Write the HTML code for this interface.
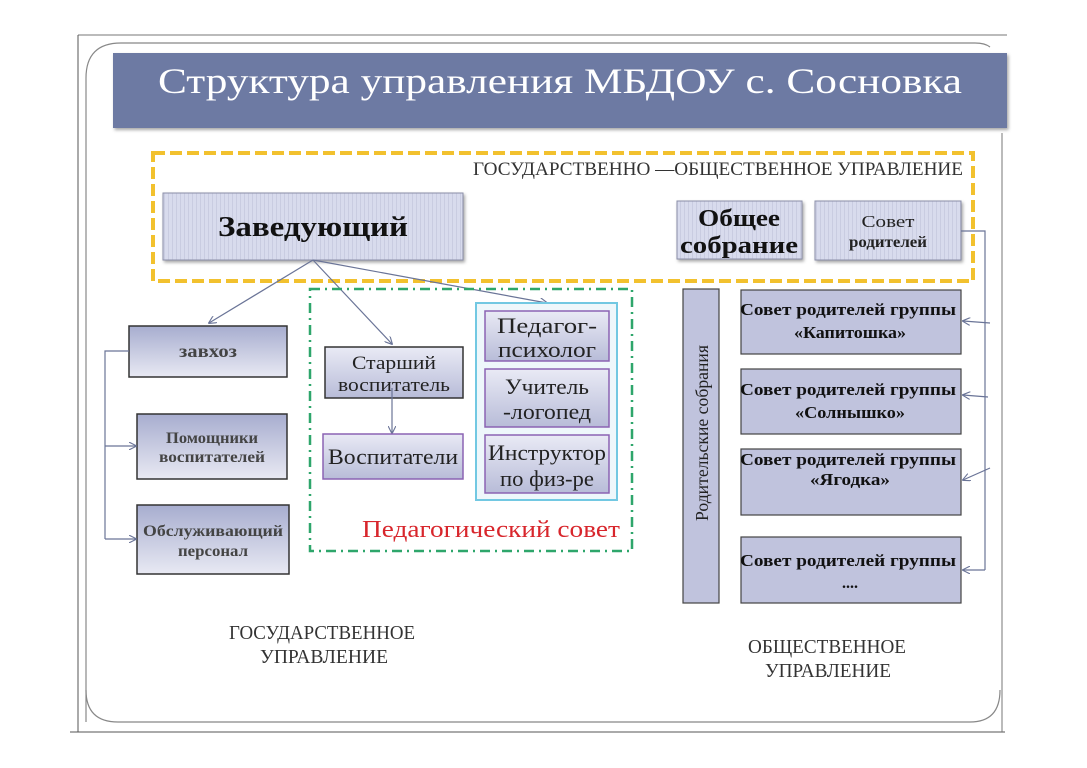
<!DOCTYPE html>
<html><head><meta charset="utf-8"><style>
html,body{margin:0;padding:0;background:#fff;}
svg{display:block;}
text{font-family:"Liberation Serif","DejaVu Serif",serif;}
</style></head><body>
<svg width="1087" height="768" viewBox="0 0 1087 768" xmlns="http://www.w3.org/2000/svg">
<defs>
  <pattern id="stripe" width="4" height="10" patternUnits="userSpaceOnUse">
    <rect width="4" height="10" fill="#d8dbed"/>
    <rect width="1" height="10" fill="#c9cce1"/>
  </pattern>
  <linearGradient id="gb" x1="0" y1="0" x2="0" y2="1">
    <stop offset="0" stop-color="#a7adcf"/>
    <stop offset="1" stop-color="#e8e9f3"/>
  </linearGradient>
  <linearGradient id="gp" x1="0" y1="0" x2="0" y2="1">
    <stop offset="0" stop-color="#e9eaf5"/>
    <stop offset="1" stop-color="#b8bcd8"/>
  </linearGradient>
  <filter id="sh" x="-10%" y="-10%" width="130%" height="140%">
    <feDropShadow dx="1.5" dy="2" stdDeviation="1.5" flood-color="#000" flood-opacity="0.35"/>
  </filter>
  <marker id="ar" viewBox="0 0 10 10" refX="9" refY="5" markerWidth="8" markerHeight="8" orient="auto" markerUnits="userSpaceOnUse">
    <path d="M0,0 L10,5 L0,10" fill="none" stroke="#6a7497" stroke-width="1.4"/>
  </marker>
</defs>

<!-- outer frame -->
<line x1="78" y1="35" x2="1007" y2="35" stroke="#777" stroke-width="1"/>
<line x1="78" y1="35" x2="78" y2="732" stroke="#555" stroke-width="1"/>
<line x1="70" y1="732" x2="1005" y2="732" stroke="#555" stroke-width="1"/>
<line x1="1002" y1="133" x2="1002" y2="732" stroke="#777" stroke-width="1"/>
<!-- inner rounded -->
<path d="M86,722 L86,78 Q86,43 121,43 L975,43 Q985,43 990,47" fill="none" stroke="#888" stroke-width="1.2"/>
<path d="M86,690 Q86,722 118,722 L970,722 Q1000,722 1000,690" fill="none" stroke="#888" stroke-width="1.2"/>

<!-- title bar -->
<rect x="113" y="53" width="894" height="75" fill="#6d7aa3" filter="url(#sh)"/>
<text x="158" y="93" font-size="36" fill="#fff" textLength="804" lengthAdjust="spacingAndGlyphs">Структура управления МБДОУ с. Сосновка</text>

<!-- yellow dashed -->
<rect x="153" y="153" width="820" height="128" fill="none" stroke="#f2c12e" stroke-width="4" stroke-dasharray="12,5"/>
<text x="473" y="175" font-size="19" fill="#333" textLength="490" lengthAdjust="spacingAndGlyphs">ГОСУДАРСТВЕННО —ОБЩЕСТВЕННОЕ УПРАВЛЕНИЕ</text>

<!-- Заведующий -->
<rect x="163" y="193" width="300" height="67" fill="url(#stripe)" stroke="#8a8ea8" stroke-width="1" filter="url(#sh)"/>
<text x="313" y="236" font-size="29" font-weight="bold" fill="#111" text-anchor="middle" textLength="190" lengthAdjust="spacingAndGlyphs">Заведующий</text>

<!-- Общее собрание -->
<rect x="677" y="201" width="125" height="58" fill="url(#stripe)" stroke="#8a8ea8" stroke-width="1" filter="url(#sh)"/>
<text x="739" y="226" font-size="24" font-weight="bold" fill="#111" text-anchor="middle" textLength="82" lengthAdjust="spacingAndGlyphs">Общее</text>
<text x="739" y="253" font-size="24" font-weight="bold" fill="#111" text-anchor="middle" textLength="118" lengthAdjust="spacingAndGlyphs">собрание</text>

<!-- Совет родителей -->
<rect x="815" y="201" width="146" height="59" fill="url(#stripe)" stroke="#8a8ea8" stroke-width="1" filter="url(#sh)"/>
<text x="888" y="227" font-size="17" fill="#222" text-anchor="middle" textLength="53" lengthAdjust="spacingAndGlyphs">Совет</text>
<text x="888" y="247" font-size="16" font-weight="bold" fill="#222" text-anchor="middle" textLength="78" lengthAdjust="spacingAndGlyphs">родителей</text>

<!-- connectors from Заведующий -->
<line x1="313" y1="260" x2="209" y2="323" stroke="#6a7497" stroke-width="1.2" marker-end="url(#ar)"/>
<line x1="313" y1="260" x2="392" y2="344" stroke="#6a7497" stroke-width="1.2" marker-end="url(#ar)"/>
<line x1="313" y1="260" x2="547" y2="303" stroke="#6a7497" stroke-width="1.2" marker-end="url(#ar)"/>

<!-- green dash-dot -->
<rect x="310" y="289" width="322" height="262" fill="none" stroke="#2ea66b" stroke-width="2.5" stroke-dasharray="10,5,2,5"/>
<text x="620" y="537" font-size="24" fill="#d8262c" text-anchor="end" textLength="258" lengthAdjust="spacingAndGlyphs">Педагогический совет</text>

<!-- cyan group -->
<rect x="476" y="303" width="141" height="197" fill="#eef7fb" stroke="#72c8e2" stroke-width="2"/>
<rect x="485" y="311" width="124" height="50" fill="url(#gp)" stroke="#8b63b3" stroke-width="1.5"/>
<text x="547" y="333" font-size="22" fill="#222" text-anchor="middle" textLength="100" lengthAdjust="spacingAndGlyphs">Педагог-</text>
<text x="547" y="357" font-size="22" fill="#222" text-anchor="middle" textLength="98" lengthAdjust="spacingAndGlyphs">психолог</text>
<rect x="485" y="369" width="124" height="58" fill="url(#gp)" stroke="#8b63b3" stroke-width="1.5"/>
<text x="547" y="394" font-size="22" fill="#222" text-anchor="middle" textLength="84" lengthAdjust="spacingAndGlyphs">Учитель</text>
<text x="547" y="419" font-size="22" fill="#222" text-anchor="middle" textLength="88" lengthAdjust="spacingAndGlyphs">-логопед</text>
<rect x="485" y="435" width="124" height="58" fill="url(#gp)" stroke="#8b63b3" stroke-width="1.5"/>
<text x="547" y="460" font-size="22" fill="#222" text-anchor="middle" textLength="118" lengthAdjust="spacingAndGlyphs">Инструктор</text>
<text x="547" y="486" font-size="22" fill="#222" text-anchor="middle" textLength="94" lengthAdjust="spacingAndGlyphs">по физ-ре</text>

<!-- Старший воспитатель -->
<rect x="325" y="347" width="138" height="51" fill="url(#gp)" stroke="#333" stroke-width="1.5"/>
<text x="394" y="369" font-size="19" fill="#222" text-anchor="middle" textLength="84" lengthAdjust="spacingAndGlyphs">Старший</text>
<text x="394" y="391" font-size="19" fill="#222" text-anchor="middle" textLength="112" lengthAdjust="spacingAndGlyphs">воспитатель</text>
<line x1="392" y1="388" x2="392" y2="433" stroke="#6a7497" stroke-width="1.2" marker-end="url(#ar)"/>

<!-- Воспитатели -->
<rect x="323" y="434" width="140" height="45" fill="url(#gp)" stroke="#8b63b3" stroke-width="1.5"/>
<text x="393" y="464" font-size="22" fill="#222" text-anchor="middle" textLength="130" lengthAdjust="spacingAndGlyphs">Воспитатели</text>

<!-- left column -->
<rect x="129" y="326" width="158" height="51" fill="url(#gb)" stroke="#333" stroke-width="1.5"/>
<text x="208" y="357" font-size="18" font-weight="bold" fill="#444" text-anchor="middle" textLength="58" lengthAdjust="spacingAndGlyphs">завхоз</text>
<rect x="137" y="414" width="150" height="65" fill="url(#gb)" stroke="#333" stroke-width="1.5"/>
<text x="212" y="443" font-size="16" font-weight="bold" fill="#444" text-anchor="middle" textLength="92" lengthAdjust="spacingAndGlyphs">Помощники</text>
<text x="212" y="462" font-size="16" font-weight="bold" fill="#444" text-anchor="middle" textLength="106" lengthAdjust="spacingAndGlyphs">воспитателей</text>
<rect x="137" y="505" width="152" height="69" fill="url(#gb)" stroke="#333" stroke-width="1.5"/>
<text x="213" y="536" font-size="16" font-weight="bold" fill="#444" text-anchor="middle" textLength="140" lengthAdjust="spacingAndGlyphs">Обслуживающий</text>
<text x="213" y="556" font-size="16" font-weight="bold" fill="#444" text-anchor="middle" textLength="70" lengthAdjust="spacingAndGlyphs">персонал</text>
<polyline points="129,351 105,351 105,539" fill="none" stroke="#6a7497" stroke-width="1.2"/>
<line x1="105" y1="446" x2="136" y2="446" stroke="#6a7497" stroke-width="1.2" marker-end="url(#ar)"/>
<line x1="105" y1="539" x2="136" y2="539" stroke="#6a7497" stroke-width="1.2" marker-end="url(#ar)"/>

<!-- right: Родительские собрания -->
<rect x="683" y="289" width="36" height="314" fill="#c0c3dd" stroke="#444" stroke-width="1.2"/>
<text transform="translate(708,433) rotate(-90)" font-size="18" fill="#222" text-anchor="middle" textLength="176" lengthAdjust="spacingAndGlyphs">Родительские собрания</text>

<g font-weight="bold" fill="#111">
<rect x="741" y="290" width="220" height="64" fill="#c0c3dd" stroke="#444" stroke-width="1.2"/>
<text x="848" y="315" font-size="16.5" text-anchor="middle" textLength="216" lengthAdjust="spacingAndGlyphs">Совет родителей группы</text>
<text x="850" y="338" font-size="16.5" text-anchor="middle" textLength="112" lengthAdjust="spacingAndGlyphs">«Капитошка»</text>

<rect x="741" y="369" width="220" height="65" fill="#c0c3dd" stroke="#444" stroke-width="1.2"/>
<text x="848" y="395" font-size="16.5" text-anchor="middle" textLength="216" lengthAdjust="spacingAndGlyphs">Совет родителей группы</text>
<text x="850" y="418" font-size="16.5" text-anchor="middle" textLength="110" lengthAdjust="spacingAndGlyphs">«Солнышко»</text>

<rect x="741" y="449" width="220" height="66" fill="#c0c3dd" stroke="#444" stroke-width="1.2"/>
<text x="848" y="465" font-size="16.5" text-anchor="middle" textLength="216" lengthAdjust="spacingAndGlyphs">Совет родителей группы</text>
<text x="850" y="485" font-size="16.5" text-anchor="middle" textLength="80" lengthAdjust="spacingAndGlyphs">«Ягодка»</text>

<rect x="741" y="537" width="220" height="66" fill="#c0c3dd" stroke="#444" stroke-width="1.2"/>
<text x="848" y="566" font-size="16.5" text-anchor="middle" textLength="216" lengthAdjust="spacingAndGlyphs">Совет родителей группы</text>
<text x="850" y="588" font-size="16" text-anchor="middle">....</text>
</g>

<!-- right connectors -->
<polyline points="961,231 985,231 985,570" fill="none" stroke="#6a7497" stroke-width="1.2"/>
<line x1="985" y1="570" x2="963" y2="570" stroke="#6a7497" stroke-width="1.2" marker-end="url(#ar)"/>
<line x1="990" y1="323" x2="963" y2="321" stroke="#6a7497" stroke-width="1.2" marker-end="url(#ar)"/>
<line x1="988" y1="397" x2="963" y2="395" stroke="#6a7497" stroke-width="1.2" marker-end="url(#ar)"/>
<line x1="990" y1="468" x2="963" y2="480" stroke="#6a7497" stroke-width="1.2" marker-end="url(#ar)"/>

<!-- bottom labels -->
<text x="322" y="639" font-size="20" fill="#333" text-anchor="middle" textLength="186" lengthAdjust="spacingAndGlyphs">ГОСУДАРСТВЕННОЕ</text>
<text x="324" y="663" font-size="20" fill="#333" text-anchor="middle" textLength="128" lengthAdjust="spacingAndGlyphs">УПРАВЛЕНИЕ</text>
<text x="827" y="653" font-size="20" fill="#333" text-anchor="middle" textLength="158" lengthAdjust="spacingAndGlyphs">ОБЩЕСТВЕННОЕ</text>
<text x="828" y="677" font-size="20" fill="#333" text-anchor="middle" textLength="126" lengthAdjust="spacingAndGlyphs">УПРАВЛЕНИЕ</text>
</svg>
</body></html>
